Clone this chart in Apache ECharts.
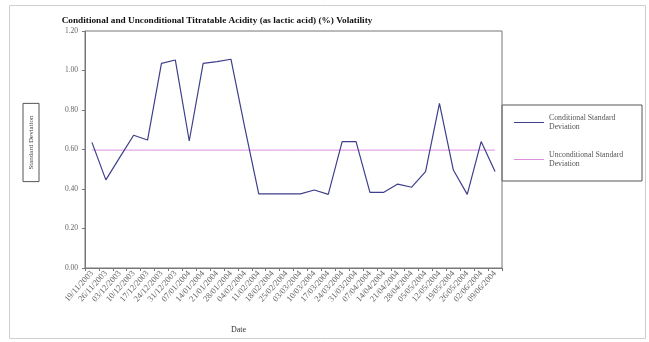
<!DOCTYPE html>
<html>
<head>
<meta charset="utf-8">
<script src="https://cdn.jsdelivr.net/npm/echarts@6/dist/echarts.min.js"></script>
<style>
  html, body { margin: 0; padding: 0; background: #fff; }
  #chart { width: 649px; height: 342px; }
</style>
</head>
<body>
<div id="chart"></div>
<script>
// Sampling dates (dd/mm/yyyy)
var dates = [
  '19/11/2003', '26/11/2003', '03/12/2003', '10/12/2003', '17/12/2003',
  '24/12/2003', '31/12/2003', '07/01/2004', '14/01/2004', '21/01/2004',
  '28/01/2004', '04/02/2004', '11/02/2004', '18/02/2004', '25/02/2004',
  '03/03/2004', '10/03/2004', '17/03/2004', '24/03/2004', '31/03/2004',
  '07/04/2004', '14/04/2004', '21/04/2004', '28/04/2004', '05/05/2004',
  '12/05/2004', '19/05/2004', '26/05/2004', '02/06/2004', '09/06/2004'
];

// Conditional standard deviation for each date
var conditionalSD = [
  0.636, 0.446, 0.560, 0.672, 0.648, 1.036, 1.053, 0.643, 1.036, 1.045,
  1.057, 0.710, 0.375, 0.375, 0.375, 0.375, 0.395, 0.373, 0.640, 0.640,
  0.383, 0.383, 0.425, 0.409, 0.488, 0.834, 0.496, 0.373, 0.640, 0.488
];

// Unconditional standard deviation (constant over the sample)
var unconditionalSD = [
  0.597, 0.597, 0.597, 0.597, 0.597, 0.597, 0.597, 0.597, 0.597, 0.597,
  0.597, 0.597, 0.597, 0.597, 0.597, 0.597, 0.597, 0.597, 0.597, 0.597,
  0.597, 0.597, 0.597, 0.597, 0.597, 0.597, 0.597, 0.597, 0.597, 0.597
];

var seriesNames = ['Conditional Standard Deviation', 'Unconditional Standard Deviation'];
var yTicks = ['0.00', '0.20', '0.40', '0.60', '0.80', '1.00', '1.20'];

var serif = '"Liberation Serif", "DejaVu Serif", serif';
var chart = echarts.init(document.getElementById('chart'), null, { renderer: 'canvas' });

chart.setOption({
  animation: false,
  backgroundColor: '#ffffff',
  title: {
    text: 'Conditional and Unconditional Titratable Acidity (as lactic acid) (%) Volatility',
    left: 212,
    textAlign: 'center',
    top: 11,
    textStyle: { fontFamily: serif, fontSize: 9.25, fontWeight: 'bold', color: '#111' }
  },
  grid: { left: 85, right: 147, top: 31, bottom: 74, show: true, borderColor: '#777', borderWidth: 1 },
  legend: {
    orient: 'vertical',
    left: 509,
    top: 108,
    itemGap: 18,
    itemWidth: 30,
    itemHeight: 2,
    icon: 'path://M0 0H30V1H0Z',
    data: seriesNames,
    formatter: function (name) {
      return name.replace(' Deviation', '\nDeviation');
    },
    textStyle: { fontFamily: serif, fontSize: 7.8, lineHeight: 9.5, color: '#555' }
  },
  xAxis: {
    type: 'category',
    data: dates,
    boundaryGap: true,
    name: 'Date',
    nameLocation: 'middle',
    nameGap: 58,
    nameTextStyle: { fontFamily: serif, fontSize: 8, color: '#333', padding: [0, 110, 0, 0] },
    axisLine: { lineStyle: { color: '#777', width: 1 } },
    axisTick: { show: true, alignWithLabel: false, length: 3, inside: false, lineStyle: { color: '#777' } },
    axisLabel: { rotate: 48, fontFamily: serif, fontSize: 8.5, color: '#666', margin: 4, interval: 0 },
    splitLine: { show: false }
  },
  yAxis: {
    type: 'value',
    min: 0,
    max: 1.2,
    interval: 0.2,
    axisLine: { show: true, lineStyle: { color: '#777', width: 1 } },
    axisTick: { show: true, length: 3, lineStyle: { color: '#777' } },
    axisLabel: {
      fontFamily: serif, fontSize: 7.5, color: '#666', margin: 7,
      formatter: function (v) { return yTicks[Math.round(v / 0.2)]; }
    },
    splitLine: { show: false }
  },
  series: [
    {
      name: seriesNames[0],
      type: 'line',
      data: conditionalSD,
      symbol: 'none',
      lineStyle: { color: '#3f3f8c', width: 1.2 },
      itemStyle: { color: '#3f3f8c' },
      z: 3
    },
    {
      name: seriesNames[1],
      type: 'line',
      data: unconditionalSD,
      symbol: 'none',
      lineStyle: { color: '#d98fdc', width: 1 },
      itemStyle: { color: '#d98fdc' },
      z: 2
    }
  ],
  graphic: [
    // boxed y-axis title
    {
      type: 'text',
      x: 31,
      y: 142.5,
      rotation: Math.PI / 2,
      silent: true,
      style: {
        text: 'Standard Deviation',
        font: '7px ' + serif,
        fill: '#444',
        align: 'center',
        verticalAlign: 'middle',
        borderColor: '#555',
        borderWidth: 1,
        padding: [4.5, 12, 4.5, 12]
      }
    },
    // legend frame
    {
      type: 'rect',
      shape: { x: 502, y: 105, width: 140, height: 76 },
      style: { fill: 'none', stroke: '#555', lineWidth: 1 },
      silent: true,
      z: -1
    },
    // chart frame
    {
      type: 'rect',
      shape: { x: 9.5, y: 5.5, width: 636, height: 333 },
      style: { fill: 'none', stroke: '#cfcfcf', lineWidth: 1 },
      silent: true,
      z: -2
    }
  ]
});
</script>
</body>
</html>
